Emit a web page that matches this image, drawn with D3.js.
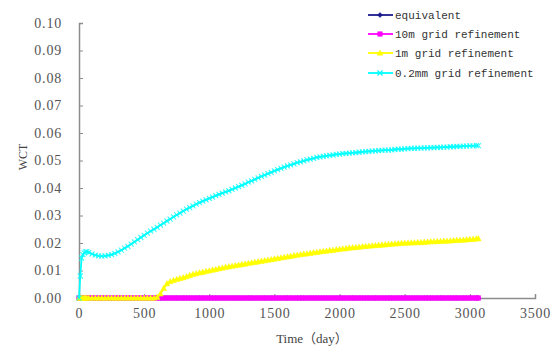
<!DOCTYPE html>
<html><head><meta charset="utf-8">
<script src="https://cdn.jsdelivr.net/npm/d3@7"></script>
<style>body{margin:0;background:#fff}svg{display:block}</style>
</head><body>
<script>
const days = [0,10,20,30,40,50,60,75,
100,125,150,175,200,225,250,275,300,325,350,375,400,425,450,475,
500,525,550,575,600,625,650,675,700,725,750,775,800,825,850,875,
900,925,950,975,1000,1025,1050,1075,1100,1125,1150,1175,1200,1225,1250,1275,
1300,1325,1350,1375,1400,1425,1450,1475,1500,1525,1550,1575,1600,1625,1650,1675,
1700,1725,1750,1775,1800,1825,1850,1875,1900,1925,1950,1975,2000,2025,2050,2075,
2100,2125,2150,2175,2200,2225,2250,2275,2300,2325,2350,2375,2400,2425,2450,2475,
2500,2525,2550,2575,2600,2625,2650,2675,2700,2725,2750,2775,2800,2825,2850,2875,
2900,2925,2950,2975,3000,3025,3050,3065];
const equivalent = [
0,0,0,0,0,0,0,0, 0,0,0,0,0,0,0,0, 0,0,0,0,0,0,0,0, 0,0,0,0,0,0,0,0,
0,0,0,0,0,0,0,0, 0,0,0,0,0,0,0,0, 0,0,0,0,0,0,0,0, 0,0,0,0,0,0,0,0,
0,0,0,0,0,0,0,0, 0,0,0,0,0,0,0,0, 0,0,0,0,0,0,0,0, 0,0,0,0,0,0,0,0,
0,0,0,0,0,0,0,0, 0,0,0,0,0,0,0,0, 0,0,0,0,0,0,0,0, 0,0,0,0,0,0,0,0];
const grid10m = [
0,0,0,0,0,0,0,0, 0,0,0,0,0,0,0,0, 0,0,0,0,0,0,0,0, 0,0,0,0,0,0,0,0,
0,0,0,0,0,0,0,0, 0,0,0,0,0,0,0,0, 0,0,0,0,0,0,0,0, 0,0,0,0,0,0,0,0,
0,0,0,0,0,0,0,0, 0,0,0,0,0,0,0,0, 0,0,0,0,0,0,0,0, 0,0,0,0,0,0,0,0,
0,0,0,0,0,0,0,0, 0,0,0,0,0,0,0,0, 0,0,0,0,0,0,0,0, 0,0,0,0,0,0,0,0];
const grid1m = [0,0,0,0,0,0,0,0,
0,0,0,0,0,0,0,0,0,0,0,0,0,0,0,0,
0,0,0,0,0.0003,0.0015,0.0035,0.0052,0.006,0.0064,0.0068,0.0071,0.0074,0.0078,0.0082,0.0086,
0.0089,0.0092,0.0094,0.0097,0.0099,0.0102,0.0104,0.0107,0.0109,0.0112,0.0114,0.0116,0.0118,0.012,0.0122,0.0124,
0.0126,0.0128,0.013,0.0132,0.0134,0.0136,0.0138,0.014,0.0142,0.0144,0.0146,0.0148,0.015,0.0152,0.0154,0.0156,
0.0158,0.016,0.0161,0.0163,0.0165,0.0166,0.0168,0.017,0.0171,0.0173,0.0174,0.0176,0.0177,0.0179,0.018,0.0182,
0.0183,0.0184,0.0185,0.0187,0.0188,0.0189,0.019,0.0191,0.0192,0.0193,0.0194,0.0195,0.0196,0.0197,0.0198,0.0199,
0.02,0.02,0.0201,0.0201,0.0202,0.0202,0.0203,0.0204,0.0205,0.0205,0.0206,0.0206,0.0207,0.0207,0.0208,0.0209,
0.021,0.021,0.0211,0.0212,0.0213,0.0214,0.0215,0.0216];
const grid02mm = [0,0.008,0.0145,0.0158,0.0164,0.0168,0.0169,0.0166,
0.016,0.0156,0.0153,0.0152,0.0153,0.0155,0.0158,0.0162,0.0168,0.0174,0.0181,0.0188,0.0196,0.0204,0.0212,0.022,
0.0228,0.0236,0.0243,0.025,0.0257,0.0265,0.0272,0.028,0.0287,0.0295,0.0302,0.0309,0.0316,0.0323,0.0329,0.0335,
0.0341,0.0347,0.0352,0.0357,0.0362,0.0367,0.0372,0.0377,0.0381,0.0386,0.039,0.0395,0.04,0.0405,0.041,0.0415,
0.0421,0.0426,0.0431,0.0437,0.0442,0.0447,0.0452,0.0457,0.0462,0.0467,0.0471,0.0476,0.048,0.0484,0.0488,0.0492,
0.0495,0.0499,0.0502,0.0505,0.0508,0.0511,0.0513,0.0515,0.0517,0.0519,0.052,0.0522,0.0523,0.0525,0.0526,0.0527,
0.0528,0.0529,0.053,0.0531,0.0532,0.0533,0.0534,0.0535,0.0536,0.0537,0.0538,0.0538,0.0539,0.054,0.0541,0.0541,
0.0542,0.0543,0.0544,0.0544,0.0545,0.0545,0.0546,0.0546,0.0547,0.0547,0.0548,0.0548,0.0549,0.0549,0.055,0.055,
0.0551,0.0551,0.0552,0.0552,0.0553,0.0553,0.0554,0.0554];
const seriesNames = ["equivalent","10m grid refinement","1m grid refinement","0.2mm grid refinement"];
const seriesColors = ["#1a1a8c","#ff00ff","#ffff00","#00ffff"];
const seriesMarkers = ["diamond","square","triangle","x"];
const xTicks = [0,500,1000,1500,2000,2500,3000,3500];
const yTicks = [0,0.01,0.02,0.03,0.04,0.05,0.06,0.07,0.08,0.09,0.10];

const W=553,H=352;
const svg=d3.select("body").append("svg").attr("width",W).attr("height",H);
const x=d3.scaleLinear().domain([0,3500]).range([79,535]);
const y=d3.scaleLinear().domain([0,0.10]).range([298,23]);

const axisColor="#8c8c8c";
const gx=svg.append("g").attr("transform","translate(0,298)")
  .call(d3.axisBottom(x).tickValues(xTicks).tickSize(-4).tickPadding(10).tickFormat(d3.format("d")));
const gy=svg.append("g").attr("transform","translate(79,0)")
  .call(d3.axisLeft(y).tickValues(yTicks).tickSize(-4).tickPadding(17).tickFormat(d3.format(".2f")));
[gx,gy].forEach(g=>{
  g.select(".domain").attr("stroke",axisColor).attr("stroke-width",1.5);
  g.selectAll(".tick line").attr("stroke",axisColor);
  g.selectAll(".tick text").attr("fill","#555").attr("font-family","Liberation Serif, serif").attr("font-size",14).attr("letter-spacing","0.8px");
});

svg.append("text").attr("transform","translate(27,157) rotate(-90)").attr("text-anchor","middle")
  .attr("font-family","Liberation Serif, serif").attr("font-size",12).attr("fill","#444").text("WCT");
svg.append("text").attr("x",312).attr("y",343).attr("text-anchor","middle")
  .attr("font-family","Liberation Serif, Noto Sans CJK SC, serif").attr("font-size",13).attr("fill","#444").text("Time（day）");

function markerPath(type,s){
  if(type==="x") return `M${-s},${-s}L${s},${s}M${-s},${s}L${s},${-s}`;
  if(type==="square") return `M${-s},${-s}H${s}V${s}H${-s}Z`;
  if(type==="triangle") return `M0,${-s*1.1}L${s},${s*0.8}L${-s},${s*0.8}Z`;
  return `M0,${-s}L${s},0L0,${s}L${-s},0Z`;
}
const markerSize=[2.5,2.3,2.8,2.5];

const allSeries=[equivalent,grid10m,grid1m,grid02mm];
const line=d3.line().x((d,i)=>x(days[i])).y(d=>y(d));
allSeries.forEach((vals,k)=>{
  const g=svg.append("g");
  g.append("path").datum(vals).attr("d",line).attr("fill","none").attr("stroke",seriesColors[k]).attr("stroke-width",1.8);
  g.selectAll("path.m").data(vals).join("path").attr("class","m")
    .attr("transform",(d,i)=>`translate(${x(days[i])},${y(d)})`)
    .attr("d",markerPath(seriesMarkers[k],markerSize[k]))
    .attr("fill",seriesMarkers[k]==="x"?"none":seriesColors[k])
    .attr("stroke",seriesColors[k]).attr("stroke-width",seriesMarkers[k]==="x"?1.1:0.5)
    .attr("stroke-opacity",seriesMarkers[k]==="x"?0.8:1);
});

// legend
const legY=[15,34,53,73];
seriesNames.forEach((n,k)=>{
  const g=svg.append("g").attr("transform",`translate(0,${legY[k]})`);
  g.append("line").attr("x1",368).attr("x2",393).attr("y1",0).attr("y2",0).attr("stroke",seriesColors[k]).attr("stroke-width",1.8);
  g.append("path").attr("transform","translate(380,0)").attr("d",markerPath(seriesMarkers[k],markerSize[k]))
    .attr("fill",seriesMarkers[k]==="x"?"none":seriesColors[k]).attr("stroke",seriesColors[k]).attr("stroke-width",seriesMarkers[k]==="x"?1.2:0.5);
  g.append("text").attr("x",395).attr("y",4).attr("font-family","Liberation Mono, monospace").attr("font-size",11).attr("fill","#333").text(n);
});
</script>
</body></html>
